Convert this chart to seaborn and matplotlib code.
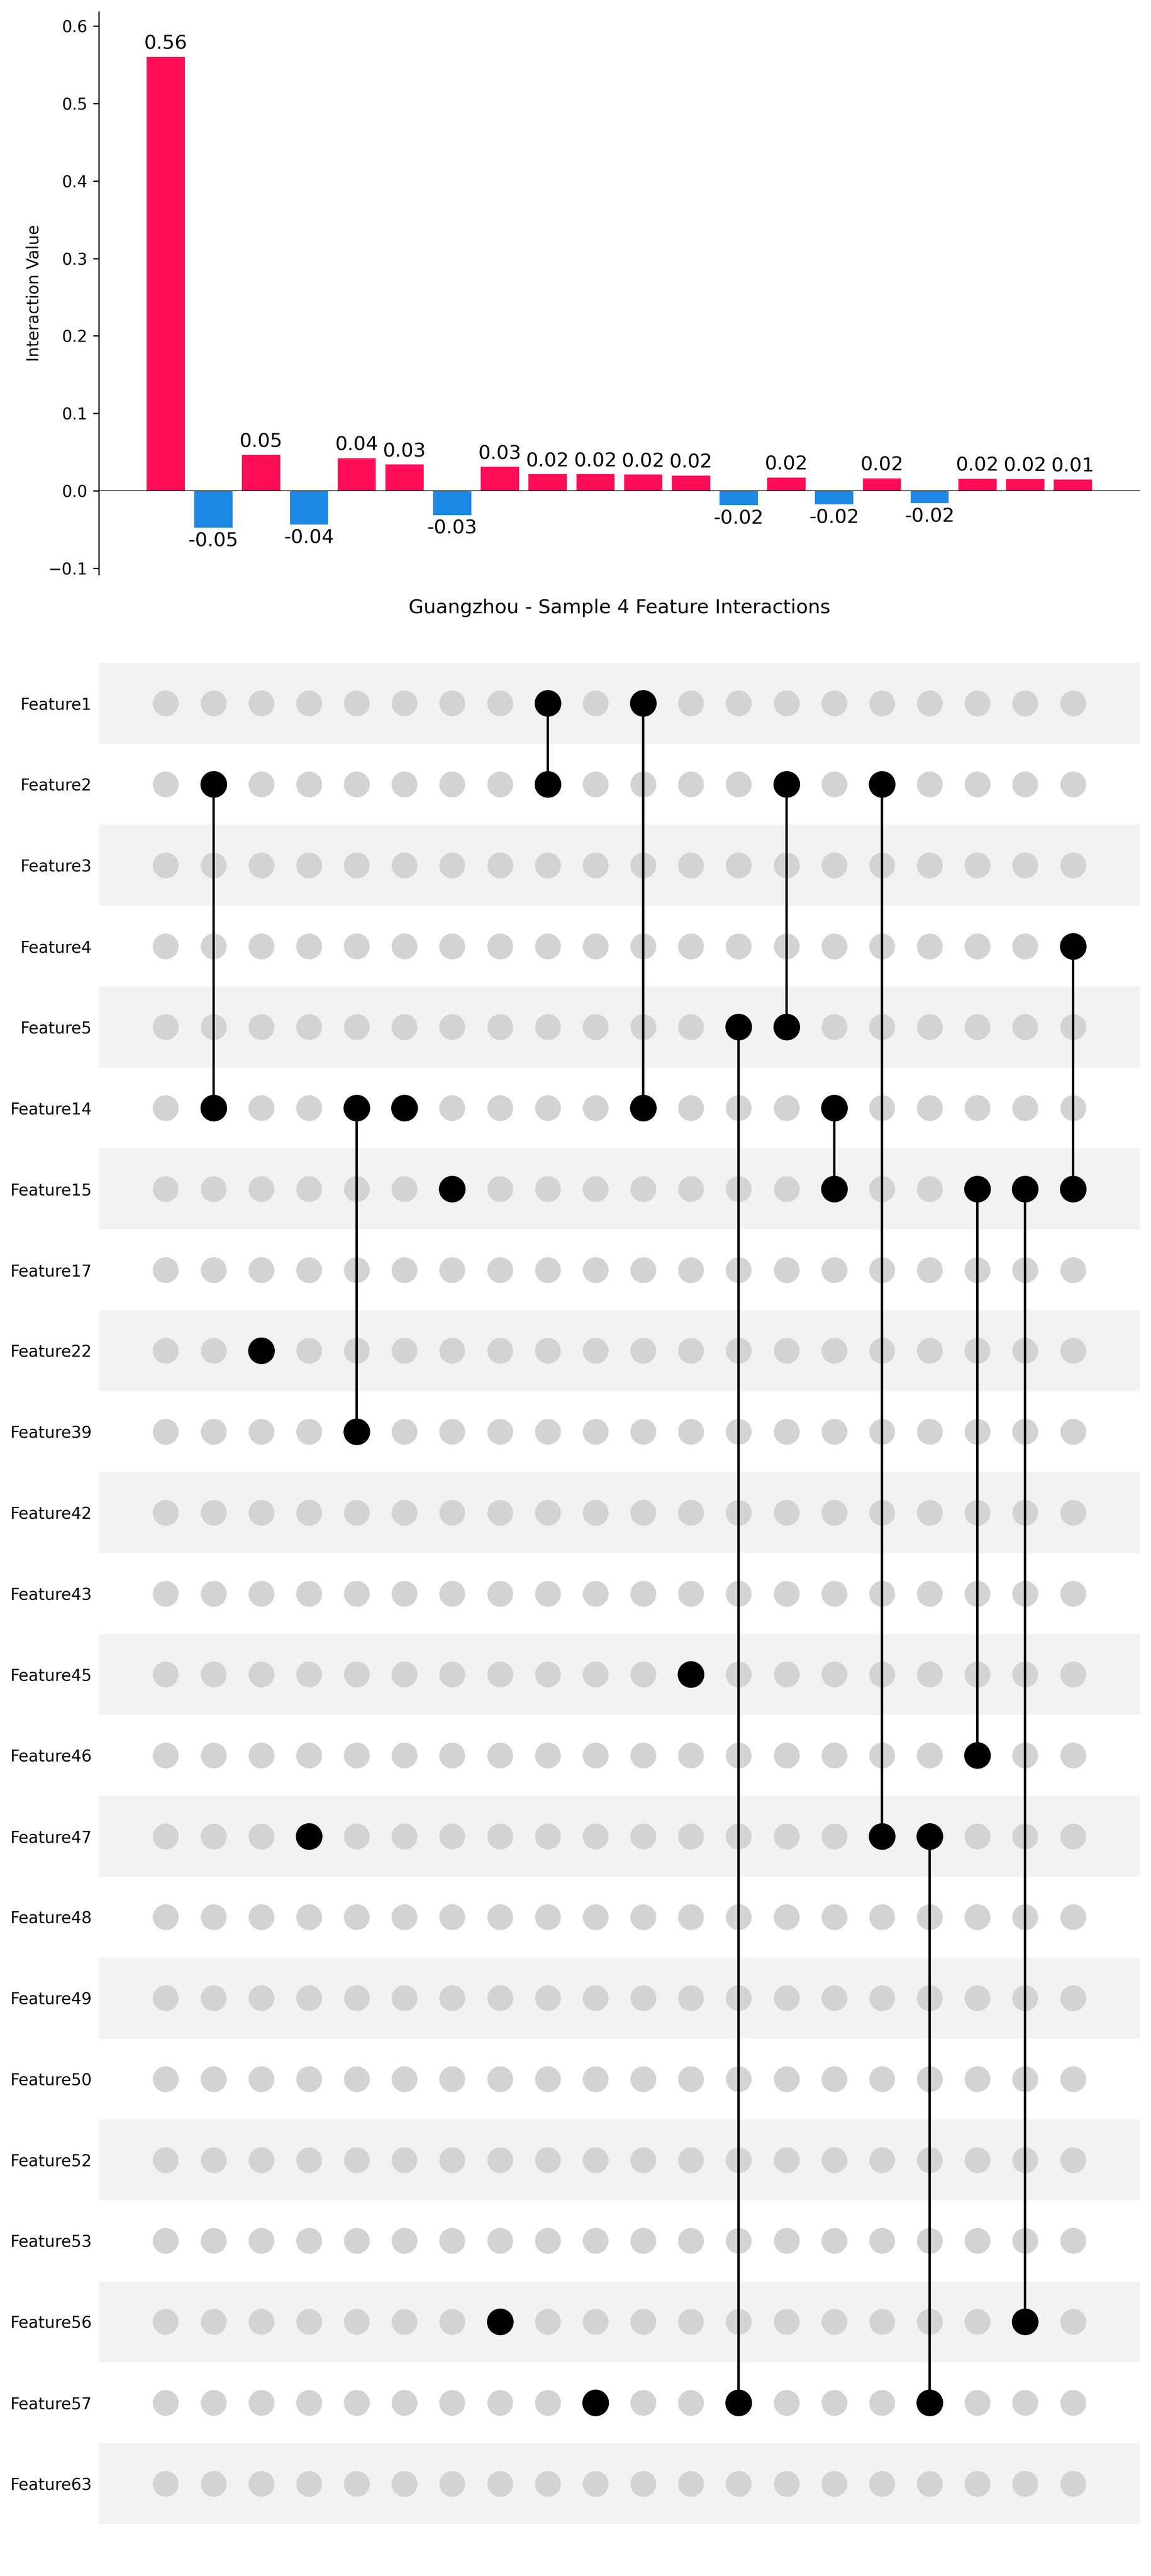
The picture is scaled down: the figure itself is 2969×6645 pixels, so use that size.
import numpy as np
import pandas as pd
import matplotlib
matplotlib.use("Agg")
import matplotlib.pyplot as plt
import seaborn as sns

# ---------------- data ----------------
features = ["Feature1", "Feature2", "Feature3", "Feature4", "Feature5", "Feature14",
            "Feature15", "Feature17", "Feature22", "Feature39", "Feature42", "Feature43",
            "Feature45", "Feature46", "Feature47", "Feature48", "Feature49", "Feature50",
            "Feature52", "Feature53", "Feature56", "Feature57", "Feature63"]

values = [0.560, -0.0476, 0.0464, -0.0436, 0.0422, 0.0341, -0.0314, 0.0310,
          0.0214, 0.0214, 0.0210, 0.0198, -0.0186, 0.0172, -0.0175, 0.0162,
          -0.0161, 0.0156, 0.0151, 0.0146]

members = [[], ["Feature2", "Feature14"], ["Feature22"], ["Feature47"],
           ["Feature14", "Feature39"], ["Feature14"], ["Feature15"], ["Feature56"],
           ["Feature1", "Feature2"], ["Feature57"], ["Feature1", "Feature14"],
           ["Feature45"], ["Feature5", "Feature57"], ["Feature2", "Feature5"],
           ["Feature14", "Feature15"], ["Feature2", "Feature47"],
           ["Feature47", "Feature57"], ["Feature15", "Feature46"],
           ["Feature15", "Feature56"], ["Feature4", "Feature15"]]

title = "Guangzhou - Sample 4 Feature Interactions"
ylabel = "Interaction Value"

POS_COLOR = "#FF0D57"
NEG_COLOR = "#1E88E5"

# ---------------- figure ----------------
W, H, DPI = 2969, 6645, 300
fig = plt.figure(figsize=(W / DPI, H / DPI), dpi=DPI)

left = 255 / W
right = 2940 / W
ax_b = fig.add_axes([left, 1 - 1482 / H, right - left, (1482 - 31) / H])
ax_m = fig.add_axes([left, 1 - 6511 / H, right - left, (6511 - 1710) / H])

n = len(values)
pos = np.arange(n)
df = pd.DataFrame({"pos": pos, "value": values,
                   "sign": ["pos" if v >= 0 else "neg" for v in values]})

sns.barplot(data=df, x="pos", y="value", hue="sign",
            palette={"pos": POS_COLOR, "neg": NEG_COLOR},
            dodge=False, width=0.8, saturation=1, legend=False,
            native_scale=True, ax=ax_b)

for i, v in zip(pos, values):
    if v >= 0:
        ax_b.text(i, v + 0.005, f"{v:.2f}", ha="center", va="bottom", fontsize=12)
    else:
        ax_b.text(i, v - 0.005, f"{v:.2f}", ha="center", va="top", fontsize=12)

ax_b.axhline(0, color="black", lw=0.5, zorder=3)
ax_b.set_xlim(-1.4, n - 1 + 1.4)
ax_b.set_ylim(-0.108, 0.618)
ax_b.set_yticks(np.arange(-0.1, 0.61, 0.1))
ax_b.set_xticks([])
ax_b.set_xlabel("")
ax_b.set_ylabel(ylabel, fontsize=10)
for s in ["top", "right", "bottom"]:
    ax_b.spines[s].set_visible(False)
ax_b.tick_params(axis="y", labelsize=10)

# ---------------- matrix ----------------
nrow = len(features)
for r in range(0, nrow, 2):
    ax_m.axhspan(r - 0.5, r + 0.5, color="#f2f2f2", zorder=0, lw=0)

gx, gy = np.meshgrid(pos, np.arange(nrow))
sns.scatterplot(x=gx.ravel(), y=gy.ravel(), color="#d3d3d3", s=256,
                linewidth=0, ax=ax_m, zorder=1, legend=False)

bx, by = [], []
for i, mem in enumerate(members):
    rows = [features.index(f) for f in mem]
    if len(rows) > 1:
        ax_m.vlines(i, min(rows), max(rows), color="black", lw=1.5, zorder=2)
    for r in rows:
        bx.append(i)
        by.append(r)
sns.scatterplot(x=bx, y=by, color="black", s=256, edgecolor="black",
                linewidth=0.5, ax=ax_m, zorder=3, legend=False)

ax_m.set_xlim(-1.4, n - 1 + 1.4)
ax_m.set_ylim(nrow - 0.5, -0.5)
ax_m.set_yticks(np.arange(nrow))
ax_m.set_yticklabels(features, fontsize=10)
ax_m.set_xticks([])
ax_m.tick_params(axis="y", length=0, pad=4.3)
ax_m.set_xlabel("")
ax_m.set_ylabel("")
for s in ax_m.spines.values():
    s.set_visible(False)
ax_m.set_title(title, fontsize=12, pad=30.7)

fig.savefig("out.png", dpi=DPI)
